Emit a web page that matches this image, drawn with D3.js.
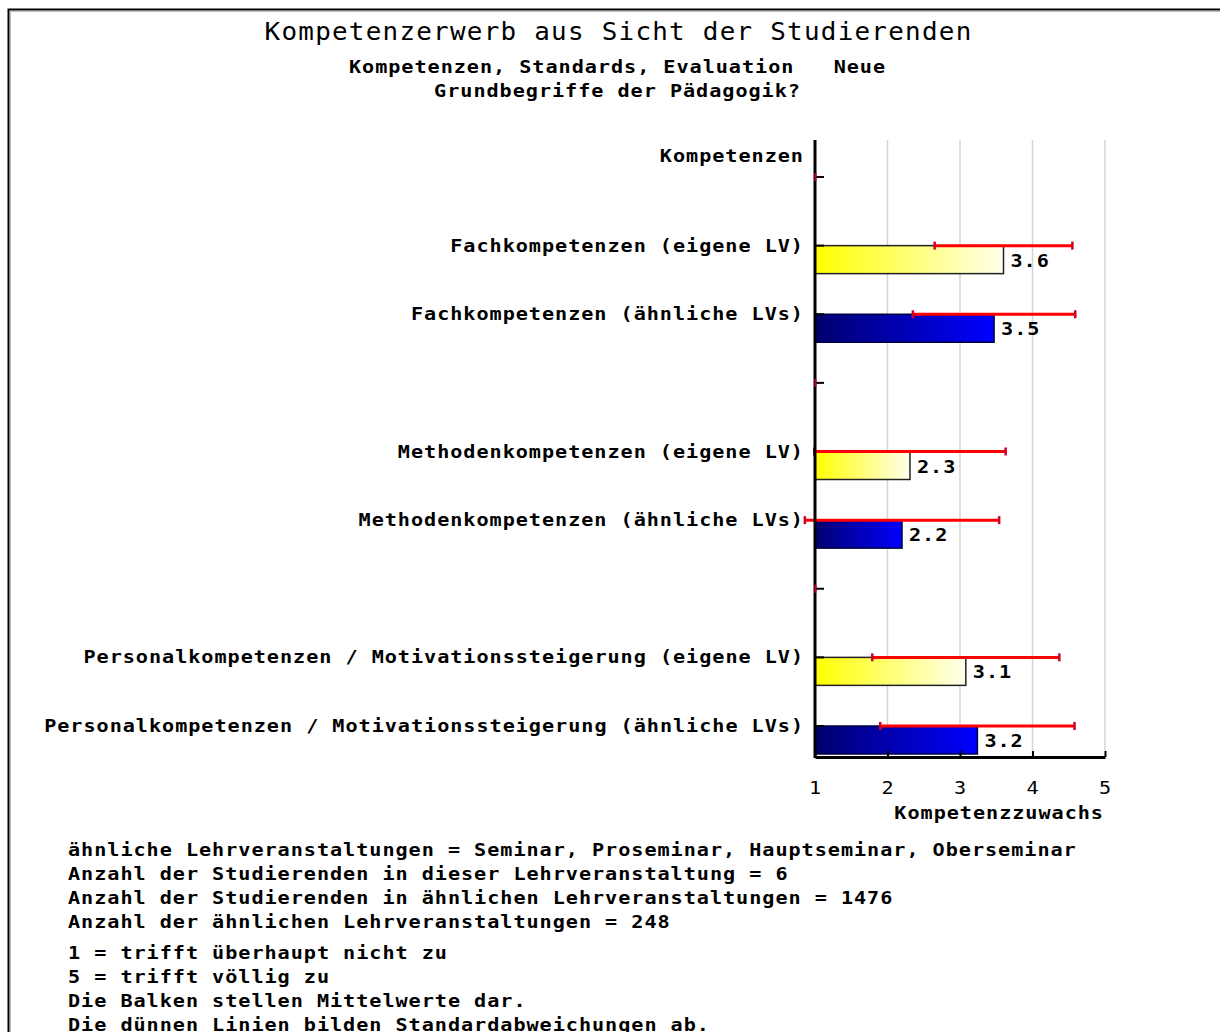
<!DOCTYPE html>
<html>
<head>
<meta charset="utf-8">
<script src="https://cdn.jsdelivr.net/npm/d3@7"></script>
<style>
  html, body { margin: 0; padding: 0; background: #fff; }
  svg { display: block; }
  .mono { font-family: "DejaVu Sans Mono", "Liberation Mono", monospace; }
</style>
</head>
<body>
<svg id="chart" width="1220" height="1032"></svg>
<script>
// ---- data ----
const titleText = "Kompetenzerwerb aus Sicht der Studierenden";
const subtitleLines = ["Kompetenzen, Standards, Evaluation   Neue", "Grundbegriffe der Pädagogik?"];
const rowLabels = [
  "Kompetenzen",
  "Fachkompetenzen (eigene LV)",
  "Fachkompetenzen (ähnliche LVs)",
  "",
  "Methodenkompetenzen (eigene LV)",
  "Methodenkompetenzen (ähnliche LVs)",
  "",
  "Personalkompetenzen / Motivationssteigerung (eigene LV)",
  "Personalkompetenzen / Motivationssteigerung (ähnliche LVs)"
];
const rowSeries = ["header", "eigene", "aehnlich", "header", "eigene", "aehnlich", "header", "eigene", "aehnlich"];
const means = [null, 3.6, 3.47, null, 2.31, 2.2, null, 3.08, 3.24];
const sds   = [null, 0.95, 1.12, null, 1.32, 1.34, null, 1.29, 1.34];
const xTicks = [1, 2, 3, 4, 5];
const xAxisTitle = "Kompetenzzuwachs";
const notes1 = [
  "ähnliche Lehrveranstaltungen = Seminar, Proseminar, Hauptseminar, Oberseminar",
  "Anzahl der Studierenden in dieser Lehrveranstaltung = 6",
  "Anzahl der Studierenden in ähnlichen Lehrveranstaltungen = 1476",
  "Anzahl der ähnlichen Lehrveranstaltungen = 248"
];
const notes2 = [
  "1 = trifft überhaupt nicht zu",
  "5 = trifft völlig zu",
  "Die Balken stellen Mittelwerte dar.",
  "Die dünnen Linien bilden Standardabweichungen ab."
];

// ---- layout ----
const svg = d3.select("#chart");
const FS = 18;            // small text font size
const SX = 1.12;          // horizontal stretch to mimic wide bitmap font
const CHAR = 13.1;        // target advance per char
const LS = (CHAR - FS * 0.602 * SX) / SX;

// text helper: positions in page px; anchor start|middle|end
function txt(parent, x, y, str, o = {}) {
  const fs = o.fs || FS, sx = o.sx || SX, ch = o.ch || CHAR;
  const ls = (ch - fs * 0.602 * sx) / sx;
  const n = str.length;
  const w = n * ch - ls * sx;              // visual width (no trailing spacing)
  let x0 = x;
  if (o.anchor === "end") x0 = x - w;
  else if (o.anchor === "middle") x0 = x - w / 2;
  const g = parent.append("g").attr("transform", `translate(${x0},${y}) scale(${sx},1)`);
  g.append("text").attr("class", "mono")
    .attr("x", 0).attr("y", 0)
    .attr("font-size", fs).attr("font-weight", o.weight || "bold")
    .attr("letter-spacing", ls).attr("fill", "#000")
    .style("white-space", "pre")
    .text(str);
  return g;
}

const plotLeft = 815, plotRight = 1105, plotTop = 140, plotBottom = 757;
const x = d3.scaleLinear().domain([1, 5]).range([plotLeft, plotRight]);
const y = d3.scalePoint().domain(d3.range(rowLabels.length)).range([177, 726]);
const barH = 28;

// gradients
const defs = svg.append("defs");
const gY = defs.append("linearGradient").attr("id", "gradY");
gY.append("stop").attr("offset", "0%").attr("stop-color", "#ffff00");
gY.append("stop").attr("offset", "100%").attr("stop-color", "#ffffec");
const gB = defs.append("linearGradient").attr("id", "gradB");
gB.append("stop").attr("offset", "0%").attr("stop-color", "#00006e");
gB.append("stop").attr("offset", "100%").attr("stop-color", "#0000ff");

// frame
svg.append("path").attr("d", "M8.5,1032 V9.5 H1220").attr("fill", "none").attr("stroke", "#000").attr("stroke-width", 2);
svg.append("path").attr("d", "M10.5,1032 V11.5 H1220").attr("fill", "none").attr("stroke", "#bbb").attr("stroke-width", 1);

// title
txt(svg, 618, 40, titleText, { fs: 24, sx: 1.08, ch: 16.86, weight: "normal", anchor: "middle" });
subtitleLines.forEach((t, i) => txt(svg, 617, 73 + i * 24, t, { anchor: "middle" }));

// gridlines
svg.append("g").selectAll("line").data(xTicks.slice(1)).join("line")
  .attr("x1", d => x(d)).attr("x2", d => x(d))
  .attr("y1", plotTop).attr("y2", plotBottom)
  .attr("stroke", "#d4d4d4").attr("stroke-width", 1.5);

// bars
const barRows = d3.range(rowLabels.length).filter(i => means[i] != null);
svg.append("g").selectAll("rect").data(barRows).join("rect")
  .attr("x", x(1)).attr("y", i => y(i))
  .attr("width", i => x(means[i]) - x(1)).attr("height", barH)
  .attr("fill", i => rowSeries[i] === "eigene" ? "url(#gradY)" : "url(#gradB)")
  .attr("stroke", i => rowSeries[i] === "eigene" ? "#222" : "#000040")
  .attr("stroke-width", 1.5);

// value labels
const valG = svg.append("g");
barRows.forEach(i => txt(valG, x(means[i]) + 7, y(i) + 21, means[i].toFixed(1)));

// left axis small ticks
svg.append("g").selectAll("line").data(d3.range(rowLabels.length)).join("line")
  .attr("x1", plotLeft).attr("x2", plotLeft + 9)
  .attr("y1", i => y(i)).attr("y2", i => y(i))
  .attr("stroke", "#000").attr("stroke-width", 2);

// error bars
const errG = svg.append("g");
barRows.forEach(i => {
  const lo = means[i] - sds[i], hi = means[i] + sds[i];
  const yy = y(i);
  errG.append("line").attr("x1", x(lo)).attr("x2", x(hi)).attr("y1", yy).attr("y2", yy)
    .attr("stroke", "#ff0000").attr("stroke-width", 3);
  [lo, hi].forEach(v => {
    errG.append("line").attr("x1", x(v)).attr("x2", x(v)).attr("y1", yy - 4).attr("y2", yy + 4)
      .attr("stroke", "#d0002a").attr("stroke-width", 2.5);
  });
});

// axes lines
svg.append("line").attr("x1", plotLeft).attr("x2", plotLeft).attr("y1", plotTop).attr("y2", plotBottom + 1)
  .attr("stroke", "#000").attr("stroke-width", 3);
// small red marks on empty rows (zero-width deviation)
svg.append("g").selectAll("line").data(d3.range(rowLabels.length).filter(i => means[i] == null)).join("line")
  .attr("x1", x(1) + 0.5).attr("x2", x(1) + 0.5)
  .attr("y1", i => y(i) - 4).attr("y2", i => y(i) + 4)
  .attr("stroke", "#c0002a").attr("stroke-width", 2);

const xAxis = d3.axisBottom(x).tickValues(xTicks).tickSize(-6).tickSizeOuter(0).tickFormat(() => "");
const gx = svg.append("g").attr("transform", `translate(0,${plotBottom})`).call(xAxis);
gx.select(".domain").attr("stroke", "#000").attr("stroke-width", 3);
gx.selectAll(".tick line").attr("stroke", "#000").attr("stroke-width", 2);
const tickG = svg.append("g");
xTicks.forEach(t => txt(tickG, x(t), 794, String(t), { weight: "normal", anchor: "middle" }));

txt(svg, 1103, 819, xAxisTitle, { anchor: "end" });

// row labels
const labG = svg.append("g");
rowLabels.forEach((t, i) => {
  if (t) txt(labG, 803, y(i) + 6 - (i === 0 ? 21 : 0), t, { anchor: "end" });
});

// notes
notes1.forEach((t, i) => txt(svg, 68, 856 + i * 24, t));
notes2.forEach((t, i) => txt(svg, 68, 959 + i * 24, t));
</script>
</body>
</html>
